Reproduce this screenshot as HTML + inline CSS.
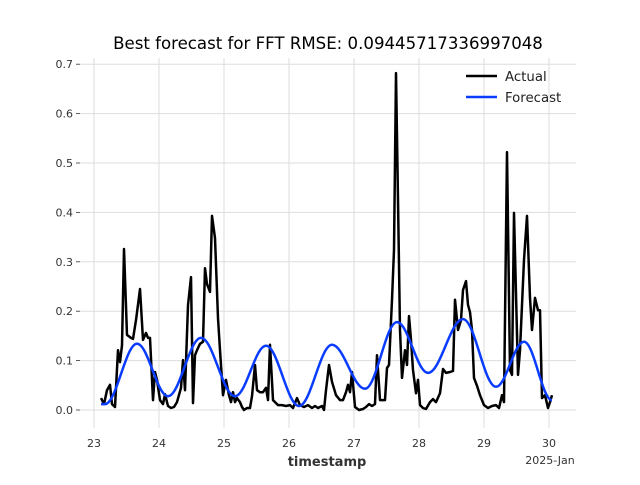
<!DOCTYPE html>
<html><head><meta charset="utf-8"><style>
body{margin:0;background:#fff;font-family:"Liberation Sans","DejaVu Sans",sans-serif}
svg text{font-family:"DejaVu Sans","Liberation Sans",sans-serif}
</style></head><body>
<svg id="chart" width="640" height="480" xmlns="http://www.w3.org/2000/svg">
<rect width="640" height="480" fill="#fff"/>
<text x="328" y="49" text-anchor="middle" font-size="16.6" fill="#000">Best forecast for FFT RMSE: 0.09445717336997048</text>
<g id="grid"></g><g id="series"></g><g id="ticks"></g>
<text x="327" y="466" text-anchor="middle" font-size="13" font-weight="bold" fill="#333">timestamp</text>
<text x="550" y="464" text-anchor="middle" font-size="11" fill="#333">2025-Jan</text>
<g>
<line x1="466" y1="76" x2="497" y2="76" stroke="#000" stroke-width="2.5"/>
<text x="505" y="81" font-size="13.3" fill="#222">Actual</text>
<line x1="466" y1="97" x2="497" y2="97" stroke="#0a3cff" stroke-width="2.5"/>
<text x="505" y="102" font-size="13.3" fill="#222">Forecast</text>
</g>
</svg>
<script>
const xTicks=[23,24,25,26,27,28,29,30];
const yTicks=[0,0.1,0.2,0.3,0.4,0.5,0.6,0.7];
const yTickLabels=["0.0","0.1","0.2","0.3","0.4","0.5","0.6","0.7"];
const actualPx=[101,104,107,110,112,115,118,120,122,124,127,131,133,136,140,143,146,148,150,153,155,157,160,163,165,168,171,174,177,181,183,185,188,191,193,195,197,200,203,205,207,210,212,215,218,220,223,226,229,231,233,235,237,240,242,244,247,250,252,255,257,260,263,266,268,270,273,275,278,282,286,290,293,297,300,304,308,312,315,318,322,324,326,329,332,336,340,343,346,348,350,352,355,359,363,366,369,372,375,377,380,383,385,387,389,392,394,396,398,400,402,405,407,409,411,413,416,418,420,423,426,430,433,436,440,443,446,450,453,455,458,461,463,466,468,470,472,474,477,480,484,488,492,496,499,502,504,507,510,512,514,518,520,524,527,530,532,535,538,540,542,545,548,550,552];
const actualDays=actualPx.map(p=>23+(p-94)/65);
const actualValues=[0.024,0.012,0.04,0.051,0.012,0.006,0.121,0.097,0.131,0.326,0.152,0.146,0.144,0.182,0.245,0.142,0.156,0.146,0.146,0.02,0.077,0.061,0.02,0.012,0.032,0.008,0.004,0.006,0.016,0.045,0.101,0.04,0.212,0.269,0.014,0.111,0.121,0.134,0.138,0.287,0.255,0.239,0.393,0.348,0.186,0.121,0.03,0.061,0.03,0.016,0.036,0.016,0.024,0.016,0.006,0.0,0.004,0.004,0.028,0.091,0.04,0.036,0.036,0.045,0.02,0.132,0.02,0.016,0.01,0.01,0.008,0.01,0.004,0.024,0.01,0.006,0.01,0.004,0.008,0.004,0.008,0.0,0.04,0.091,0.057,0.03,0.02,0.02,0.036,0.051,0.036,0.077,0.006,0.0,0.002,0.006,0.012,0.008,0.012,0.111,0.02,0.02,0.02,0.085,0.091,0.223,0.324,0.682,0.425,0.162,0.065,0.121,0.091,0.19,0.142,0.081,0.034,0.061,0.01,0.004,0.002,0.016,0.022,0.016,0.034,0.083,0.075,0.077,0.079,0.223,0.162,0.182,0.243,0.261,0.213,0.198,0.162,0.065,0.049,0.03,0.01,0.004,0.008,0.01,0.004,0.03,0.016,0.522,0.081,0.071,0.399,0.071,0.121,0.304,0.393,0.227,0.162,0.227,0.202,0.202,0.024,0.03,0.004,0.016,0.03];
const fcPx=[101,105,137,168,201,235,266,299,332,365,397,428,463,496,524,552];
const forecastDays=fcPx.map(p=>23+(p-94)/65);
const forecastValues=[0.012,0.012,0.134,0.028,0.146,0.028,0.130,0.008,0.132,0.043,0.178,0.075,0.184,0.047,0.138,0.020];
const L=80,R=576,T=58,B=428;
const X=d=>94+(d-23)*65;
const Y=v=>410-v*494;
const NS="http://www.w3.org/2000/svg";
function mk(tag,attrs,parent){const e=document.createElementNS(NS,tag);for(const k in attrs)e.setAttribute(k,attrs[k]);parent.appendChild(e);return e;}
const grid=document.getElementById('grid'),ticks=document.getElementById('ticks'),series=document.getElementById('series');
xTicks.forEach(t=>{
 const l=mk('line',{x1:X(t),x2:X(t),y1:T,y2:B,stroke:'#ddd','stroke-width':1},grid);
 
 
 const tx=mk('text',{x:X(t),y:447,'text-anchor':'middle','font-size':11,fill:'#333'},ticks);
 tx.textContent=t;
 
 
});
yTicks.forEach((t,i)=>{
 const l=mk('line',{x1:L,x2:R,y1:Y(t),y2:Y(t),stroke:'#ddd','stroke-width':1},grid);
 
 
 const m=mk('line',{x1:76,x2:80,y1:Y(t),y2:Y(t),stroke:'#333','stroke-width':0.8},ticks);
 
 
 const tx=mk('text',{x:73,y:Y(t)+4,'text-anchor':'end','font-size':11,fill:'#333'},ticks);
 tx.textContent=yTickLabels[i];
 
 
});
let d=actualDays.map((t,i)=>(i?'L':'M')+X(t).toFixed(1)+','+Y(actualValues[i]).toFixed(1)).join('');
const a=mk('path',{d:d,fill:'none',stroke:'#000','stroke-width':2.5,'stroke-linejoin':'round'},series);


let fd='M'+X(forecastDays[0]).toFixed(1)+','+Y(forecastValues[0]).toFixed(1);
for(let i=1;i<forecastDays.length;i++){
 const x0=X(forecastDays[i-1]),x1=X(forecastDays[i]),y0=Y(forecastValues[i-1]),y1=Y(forecastValues[i]);
 const h=(x1-x0)*0.36;
 fd+=`C${(x0+h).toFixed(1)},${y0.toFixed(1)} ${(x1-h).toFixed(1)},${y1.toFixed(1)} ${x1.toFixed(1)},${y1.toFixed(1)}`;
}
const f=mk('path',{d:fd,fill:'none',stroke:'#0a3cff','stroke-width':2.5},series);


</script>
</body></html>
